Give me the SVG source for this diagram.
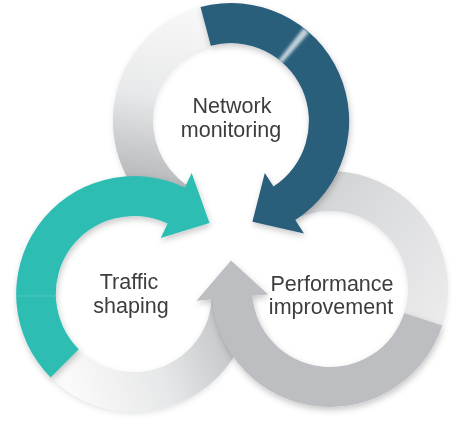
<svg xmlns="http://www.w3.org/2000/svg" width="458" height="423" viewBox="0 0 458 423">
  <style>
    .label { font-family: "Liberation Sans", Arial, sans-serif; font-size: 21.5px; fill: #3d3d3d; text-anchor: middle; }
    .dark { fill: #2a5e7c; }
    .teal { fill: #2dbdb3; }
    .grey { fill: #bcbec1; }
  </style>
  <defs>
    <filter id="shadow" x="-20%" y="-20%" width="140%" height="140%">
      <feDropShadow dx="1" dy="3" stdDeviation="3" flood-color="#000" flood-opacity="0.22"/>
    </filter>
    <filter id="softShadow" x="-20%" y="-20%" width="140%" height="140%">
      <feDropShadow dx="0" dy="2" stdDeviation="2.5" flood-color="#5a6a78" flood-opacity="0.18"/>
    </filter>
    <filter id="blur1"><feGaussianBlur stdDeviation="1.6"/></filter>
    <linearGradient id="gTopTail" gradientUnits="userSpaceOnUse" x1="205" y1="10" x2="170" y2="215">
      <stop offset="0" stop-color="#f8f8f8"/>
      <stop offset="0.45" stop-color="#e8e9ea"/>
      <stop offset="1" stop-color="#a6a8ab"/>
    </linearGradient>
    <linearGradient id="gLeftTail" gradientUnits="userSpaceOnUse" x1="70" y1="385" x2="240" y2="320">
      <stop offset="0" stop-color="#fafafa"/>
      <stop offset="0.5" stop-color="#e6e7e8"/>
      <stop offset="1" stop-color="#bcbec0"/>
    </linearGradient>
    <linearGradient id="gRightTail" gradientUnits="userSpaceOnUse" x1="280" y1="190" x2="440" y2="320">
      <stop offset="0" stop-color="#cdcecf"/>
      <stop offset="0.45" stop-color="#dcdddf"/>
      <stop offset="1" stop-color="#ebebec"/>
    </linearGradient>
    <!-- each tail stops at the outer rim of the ring whose arrow covers it -->
    <clipPath id="outsideLeftRing">
      <path clip-rule="evenodd" d="M0 0H458V423H0Z M18 294 A116 116 0 1 0 250 294 A116 116 0 1 0 18 294Z"/>
    </clipPath>
    <clipPath id="outsideRightRing">
      <path clip-rule="evenodd" d="M0 0H458V423H0Z M214 289 A116 116 0 1 0 446 289 A116 116 0 1 0 214 289Z"/>
    </clipPath>
    <clipPath id="outsideTopRing">
      <path clip-rule="evenodd" d="M0 0H458V423H0Z M115 121 A116 116 0 1 0 347 121 A116 116 0 1 0 115 121Z"/>
    </clipPath>
    <clipPath id="topBand">
      <path d="M231 3 A118 118 0 1 1 230.9 3Z M231 43 A78 78 0 1 0 231.1 43Z" clip-rule="evenodd"/>
    </clipPath>
  </defs>

  <rect width="458" height="423" fill="#ffffff"/>

  <!-- pale tails of the three rings, drawn beneath all arrows -->
  <g id="ring-tails" filter="url(#softShadow)">
    <path clip-path="url(#outsideLeftRing)" fill="url(#gTopTail)"
          d="M163.3 217.7 A118 118 0 0 1 200.5 7.0 L210.8 45.7 A78 78 0 0 0 186.3 184.9Z"/>
    <path clip-path="url(#outsideRightRing)" fill="url(#gLeftTail)"
          d="M252 294 A118 118 0 0 1 50.6 377.4 L78.8 349.2 A78 78 0 0 0 212 294Z"/>
    <path clip-path="url(#outsideTopRing)" fill="url(#gRightTail)"
          d="M262.3 192.3 A118 118 0 0 1 442.2 325.5 L404.2 313.1 A78 78 0 0 0 285.3 225.1Z"/>
  </g>

  <!-- Network monitoring -->
  <g id="network-monitoring">
    <path class="dark" filter="url(#shadow)"
          d="M200.5 7.0 A118 118 0 0 1 295.3 220.0 L304.0 233.4 L252.4 221.7 L264.8 173.0 L273.5 186.4 A78 78 0 0 0 210.8 45.7Z"/>
    <path clip-path="url(#topBand)" filter="url(#blur1)" fill="#c3d2da"
          d="M231 121 L303.6 28.0 L309.0 32.4Z"/>
    <text class="label" x="232" y="113">Network</text>
    <text class="label" x="231" y="137">monitoring</text>
  </g>

  <!-- Traffic shaping -->
  <g id="traffic-shaping">
    <path class="teal" filter="url(#shadow)"
          d="M50.6 377.4 A118 118 0 0 1 184.8 187.5 L191.7 173.1 L209.5 223.0 L160.7 238.0 L167.6 223.6 A78 78 0 0 0 78.8 349.2Z"/>
    <line x1="16" y1="296" x2="56" y2="296" stroke="#6fd3cc" stroke-width="0.8" opacity="0.6"/>
    <text class="label" x="129" y="289">Traffic</text>
    <text class="label" x="131" y="313">shaping</text>
  </g>

  <!-- Performance improvement -->
  <g id="performance-improvement">
    <path class="grey" filter="url(#shadow)"
          d="M442.2 325.5 A118 118 0 0 1 212.4 299.3 L196.5 300.7 L231.0 260.6 L268.2 294.4 L252.3 295.8 A78 78 0 0 0 404.2 313.1Z"/>
    <text class="label" x="332" y="291">Performance</text>
    <text class="label" x="331" y="314">improvement</text>
  </g>
</svg>
